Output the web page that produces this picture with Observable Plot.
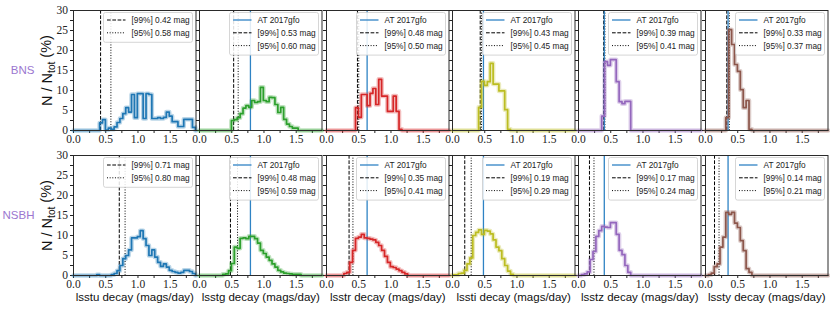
<!DOCTYPE html>
<html><head><meta charset="utf-8">
<script src="https://cdn.jsdelivr.net/npm/d3@7"></script>
<script src="https://cdn.jsdelivr.net/npm/@observablehq/plot@0.6"></script>
<style>
html,body{margin:0;padding:0;background:#fff;}
#chart{position:relative;width:830px;height:310px;overflow:hidden;background:#fff;}
#chart svg{position:absolute;overflow:visible;}
#chart svg g[aria-label$="tick label"] text, #chart svg g[aria-label$="-axis"] text {font-family:'Liberation Serif', serif !important; font-size:11.5px !important;}
</style></head><body><div id="chart"></div>
<script>
// ---------- data ----------
const bands = ["u", "g", "r", "i", "z", "y"];
const rows = ["BNS", "NSBH"];
const bandColors = ["#1f77b4", "#2ca02c", "#d62728", "#bcbd22", "#9467bd", "#8c564b"];
const binWidth = 0.045;
const xMax = 1.9;
const at2017gfo = [null, 0.79, 0.63, 0.48, 0.40, 0.35];
const bnsLim99 = [0.42, 0.53, 0.48, 0.43, 0.39, 0.33];
const bnsLim95 = [0.58, 0.60, 0.50, 0.45, 0.41, 0.37];
const nsbhLim99 = [0.71, 0.48, 0.35, 0.19, 0.17, 0.14];
const nsbhLim95 = [0.80, 0.59, 0.41, 0.29, 0.24, 0.21];
const bnsStartBin = [9, 11, 10, 9, 8, 7];
const nsbhStartBin = [8, 8, 6, 0, 1, 1];
const bnsU = [1.9, 2.7, 0.1, 0.6, 0.3, 0.9, 2.0, 3.0, 4.2, 5.7, 4.6, 9.0, 3.2, 9.2, 9.2, 3.0, 9.2, 9.0, 3.0, 3.0, 3.2, 3.0, 3.3, 4.6, 3.6, 2.2, 2.2, 1.0, 1.0, 2.8, 2.8, 2.8, 0.8];
const bnsG = [2.5, 2.7, 3.2, 4.2, 5.6, 6.2, 5.8, 7.5, 7.0, 7.2, 10.8, 7.5, 7.2, 8.3, 8.2, 6.5, 4.5, 5.8, 2.8, 1.6, 1.0, 0.6, 0.6];
const bnsR = [5.7, 3.3, 9.0, 9.0, 6.2, 9.3, 10.5, 6.5, 12.8, 8.6, 8.6, 4.8, 4.8, 8.6, 4.8, 0.3];
const bnsI = [5.8, 12.3, 11.3, 12.2, 16.8, 11.6, 11.6, 9.9, 9.9, 5.2, 0.3];
const bnsZ = [3.6, 17.2, 16.3, 17.7, 17.7, 12.2, 7.2, 6.7, 7.3, 7.3];
const bnsY = [3.2, 25.2, 21.5, 16.5, 14.8, 10.2, 5.7, 7.5, 0.3];
const nsbhU = [0.2, 0, 0, 0, 0, 0.2, 0.5, 1.2, 2.5, 4.2, 5.0, 6.4, 9.4, 9.4, 9.7, 11.2, 9.2, 7.5, 5.0, 6.4, 4.6, 3.3, 2.3, 2.9, 2.1, 1.3, 1.0, 0.8, 0.6, 0.8, 1.3, 1.3, 1.0, 0.5];
const nsbhG = [0.3, 0.4, 1.2, 3.0, 7.1, 6.8, 9.3, 9.4, 9.2, 9.8, 9.8, 9.2, 8.1, 6.3, 5.5, 4.6, 3.8, 2.9, 2.1, 1.3, 0.9, 0.6, 0.5, 0.4, 0.3, 0.3, 0.3];
const nsbhR = [0.5, 0.8, 3.3, 6.3, 9.3, 9.6, 10.3, 9.4, 9.3, 9.1, 8.9, 8.3, 7.5, 6.3, 4.8, 3.3, 2.2, 2.0, 1.6, 1.2, 0.8, 0.4];
const nsbhI = [0.15, 0.15, 0.5, 0.6, 1.3, 2.9, 4.4, 10.0, 10.8, 11.4, 10.3, 11.3, 11.1, 10.4, 8.9, 7.1, 6.2, 4.2, 2.5, 1.1, 0.3];
const nsbhZ = [0.2, 0.4, 0.9, 4.0, 6.0, 9.8, 11.2, 12.3, 12.1, 12.0, 13.2, 13.2, 10.3, 6.3, 5.2, 2.5, 0.8];
const nsbhY = [0.2, 0.6, 2.2, 2.9, 7.1, 9.6, 15.8, 15.3, 15.8, 13.1, 12.0, 8.7, 6.2, 1.7, 0.8];
const bnsSeries = [bnsU, bnsG, bnsR, bnsI, bnsZ, bnsY];
const nsbhSeries = [nsbhU, nsbhG, nsbhR, nsbhI, nsbhZ, nsbhY];
const yLabelText = "N / Ntot (%)";

// ---------- layout ----------
const frameLeft0 = 73, colStep = 126.3, frameW = 122.5, frameH = 120, rowTop = [9.5, 155];
const chart = document.getElementById("chart");
const sansFont = "'Liberation Sans', sans-serif";
const serifFont = "'Liberation Serif', serif";

function stepPoints(start, vals) {
  const pts = [{x: 0, y: 0}];
  vals.forEach((v, i) => pts.push({x: (start + i) * binWidth, y: v}));
  pts.push({x: (start + vals.length) * binWidth, y: 0});
  pts.push({x: xMax, y: 0});
  return pts;
}

function legendMark(entries) {
  return (index, scales, values, dims) => {
    const right = dims.width - dims.marginRight - 3;
    const top = dims.marginTop + 2.5;
    const bw = 89, rowH = 12.8;
    const bh = 7.5 + (entries.length - 1) * rowH + 9.5;
    const x0 = right - bw;
    const g = d3.create("svg:g").attr("text-anchor", "start");
    g.append("rect").attr("x", x0).attr("y", top).attr("width", bw).attr("height", bh)
      .attr("rx", 2).attr("fill", "white").attr("fill-opacity", 0.85)
      .attr("stroke", "#cccccc").attr("stroke-width", 0.8);
    entries.forEach((e, i) => {
      const y = top + 7.5 + i * rowH;
      g.append("line").attr("x1", x0 + 3.5).attr("x2", x0 + 22).attr("y1", y).attr("y2", y)
        .attr("stroke", e.stroke).attr("stroke-width", e.width).attr("stroke-dasharray", e.dash);
      g.append("text").attr("x", x0 + 28).attr("y", y).attr("dy", "0.35em")
        .attr("text-anchor", "start")
        .style("font-family", sansFont).style("font-size", "8.3px")
        .attr("fill", "#222").text(e.label);
    });
    return g.node();
  };
}

rows.forEach((row, r) => {
  const series = r === 0 ? bnsSeries : nsbhSeries;
  const starts = r === 0 ? bnsStartBin : nsbhStartBin;
  const lim99 = r === 0 ? bnsLim99 : nsbhLim99;
  const lim95 = r === 0 ? bnsLim95 : nsbhLim95;
  bands.forEach((band, c) => {
    const ml = c === 0 ? 73 : 14, mr = 4, mt = 6, mb = r === 0 ? 20 : 36;
    const pts = stepPoints(starts[c], series[c]);
    const color = bandColors[c];
    const entries = [];
    if (at2017gfo[c] != null) entries.push({label: "AT 2017gfo", stroke: "#2f83c4", width: 1.3, dash: null});
    entries.push({label: `[99%] ${lim99[c].toFixed(2)} mag`, stroke: "#000", width: 1, dash: "3.7,1.6"});
    entries.push({label: `[95%] ${lim95[c].toFixed(2)} mag`, stroke: "#000", width: 1, dash: "1,1.65"});
    const marks = [
      Plot.ruleX([lim99[c]], {stroke: "#000", strokeWidth: 1, strokeDasharray: "3.7,1.6"}),
      Plot.ruleX([lim95[c]], {stroke: "#000", strokeWidth: 1, strokeDasharray: "1,1.65"}),
    ];
    if (at2017gfo[c] != null) marks.push(Plot.ruleX([at2017gfo[c]], {stroke: "#2f83c4", strokeWidth: 1.3}));
    marks.push(
      Plot.line(pts, {x: "x", y: "y", curve: "step-after", stroke: color, strokeWidth: 4.5, strokeOpacity: 0.3}),
      Plot.line(pts, {x: "x", y: "y", curve: "step-after", stroke: color, strokeWidth: 1.7}),
      Plot.frame({stroke: "#2a2a2a", strokeWidth: 1}),
      legendMark(entries)
    );
    if (c === 0) {
      marks.push(
        Plot.text([row], {frameAnchor: "left", dx: -39, textAnchor: "end", fill: "#9b77d0",
          fontFamily: sansFont, fontSize: 11.5}),
        Plot.text([yLabelText], {frameAnchor: "left", dx: -26, rotate: -90, fill: "#111",
          fontFamily: sansFont, fontSize: 14.5})
      );
    }
    if (r === 1) {
      marks.push(Plot.text([`lsst${band} decay (mags/day)`], {frameAnchor: "bottom", dy: 25, fill: "#111",
        fontFamily: sansFont, fontSize: 11.5}));
    }
    const svg = Plot.plot({
      width: ml + frameW + mr,
      height: mt + frameH + mb,
      marginLeft: ml, marginRight: mr, marginTop: mt, marginBottom: mb,
      x: {domain: [0, xMax], ticks: d3.range(0, xMax, 0.25), tickSize: 3, tickPadding: 1.5,
          tickFormat: d => (Math.abs(d % 0.5) < 1e-9 ? d3.format(".1f")(d) : ""), label: null},
      y: {domain: [0, 30], ticks: d3.range(0, 30.01, 2.5), tickSize: 3, tickPadding: 2.5,
          tickFormat: c === 0 ? (d => (d % 5 === 0 ? String(d) : "")) : (() => ""), label: null},
      style: {fontFamily: serifFont, fontSize: "11.5px", color: "#222", background: "transparent", overflow: "visible"},
      marks
    });
    svg.style.left = (frameLeft0 + c * colStep - ml) + "px";
    svg.style.top = (rowTop[r] - mt) + "px";
    chart.appendChild(svg);
    // subscript for the y label, then centre it by its measured length
    d3.select(svg).selectAll("text").filter(function() { return this.textContent === yLabelText; })
      .each(function() {
        const t = d3.select(this);
        t.text(null);
        t.append("tspan").text("N / N");
        t.append("tspan").attr("dy", "0.3em").attr("font-size", "70%").text("tot");
        t.append("tspan").attr("dy", "-0.3em").text(" (%)");
        const len = this.getComputedTextLength();
        t.attr("text-anchor", "start").attr("x", -len / 2);
      });
  });
});
</script></body></html>
